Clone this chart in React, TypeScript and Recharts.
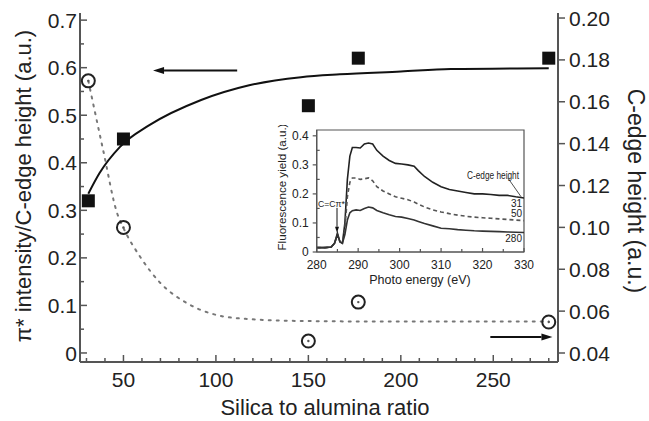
import {
  ComposedChart,
  LineChart,
  Line,
  Scatter,
  XAxis,
  YAxis,
  ReferenceLine,
  ReferenceArea,
  Label,
} from "recharts";

// --- main plot: silica to alumina ratio ---
const SQUARE_X = [31, 50, 150, 177, 280];
const SQUARE_Y = [0.32, 0.45, 0.52, 0.62, 0.62]; // pi*/C-edge (left axis)
const CIRCLE_X = [31, 50, 150, 177, 280];
const CIRCLE_Y = [0.17, 0.1, 0.0457, 0.0643, 0.0548]; // C-edge height (right axis)

// fitted curves
const FIT_X = [31, 37, 48, 64, 92, 118, 146, 167, 200, 227, 280];
const FIT_Y = [0.335, 0.378, 0.433, 0.479, 0.532, 0.563, 0.58, 0.586, 0.592, 0.597, 0.599];
const DOT_X = [31, 39, 46.5, 50, 59, 70, 84, 101, 118, 146, 200, 280];
const DOT_Y = [0.17, 0.137, 0.107, 0.0997, 0.086, 0.0734, 0.064, 0.058, 0.0562, 0.0553, 0.055, 0.055];

const X_TICKS = [30, 40, 50, 60, 70, 80, 90, 100, 110, 120, 130, 140, 150, 160, 170, 180, 190, 200, 210, 220, 230, 240, 250, 260, 270, 280];
const X_LABELS = [50, 100, 150, 200, 250];
const LEFT_TICKS = [0, 0.05, 0.1, 0.15, 0.2, 0.25, 0.3, 0.35, 0.4, 0.45, 0.5, 0.55, 0.6, 0.65, 0.7];
const RIGHT_TICKS = [0.04, 0.06, 0.08, 0.1, 0.12, 0.14, 0.16, 0.18, 0.2];

// arrows pointing at the axis each series belongs to
const ARROW_LEFT = { from: 111.5, to: 66, y: 0.594 };
const ARROW_RIGHT = { from: 248.4, to: 282, y: 0.0476 };

// --- inset: fluorescence yield spectra ---
const ENERGY = [280, 282, 283.5, 284.3, 285, 285.6, 286.2, 286.8, 287.4, 288, 288.6, 289.5, 290.5, 291.5, 292.5, 293.5, 294.5, 296, 297.5, 299, 300.5, 302, 303.5, 304.5, 306, 308, 310, 312, 314, 316, 318, 320, 322, 324, 326, 328, 330];
const YIELD_31 = [0.015, 0.015, 0.017, 0.03, 0.065, 0.035, 0.03, 0.1, 0.25, 0.33, 0.36, 0.36, 0.358, 0.372, 0.375, 0.372, 0.35, 0.33, 0.315, 0.305, 0.303, 0.3, 0.295, 0.28, 0.26, 0.24, 0.225, 0.215, 0.21, 0.205, 0.2, 0.2, 0.198, 0.195, 0.195, 0.19, 0.186];
const YIELD_50 = [0.015, 0.015, 0.017, 0.03, 0.06, 0.035, 0.03, 0.08, 0.19, 0.24, 0.255, 0.255, 0.25, 0.252, 0.255, 0.245, 0.225, 0.21, 0.2, 0.19, 0.185, 0.18, 0.172, 0.165, 0.155, 0.145, 0.138, 0.132, 0.127, 0.123, 0.12, 0.118, 0.116, 0.114, 0.112, 0.11, 0.108];
const YIELD_280 = [0.015, 0.015, 0.017, 0.03, 0.06, 0.035, 0.03, 0.06, 0.11, 0.135, 0.142, 0.145, 0.143, 0.15, 0.155, 0.152, 0.143, 0.135, 0.128, 0.122, 0.12, 0.115, 0.11, 0.105, 0.098, 0.09, 0.082, 0.08, 0.077, 0.075, 0.073, 0.072, 0.071, 0.07, 0.069, 0.068, 0.067];
const INSET_X_TICKS = [280, 285, 290, 295, 300, 305, 310, 315, 320, 325, 330];
const INSET_Y_TICKS = [0, 0.05, 0.1, 0.15, 0.2, 0.25, 0.3, 0.35, 0.4];
const SERIES_LABELS = ["31", "50", "280"];

const AX = "#555";
const INK = "#222";
const FONT = "'Liberation Sans', Arial, Helvetica, sans-serif";

const squares = SQUARE_X.map((x, i) => ({ x, y: SQUARE_Y[i] }));
const circles = CIRCLE_X.map((x, i) => ({ x, y: CIRCLE_Y[i] }));
const fit = FIT_X.map((x, i) => ({ x, y: FIT_Y[i] }));
const dotted = DOT_X.map((x, i) => ({ x, y: DOT_Y[i] }));
const spectra = ENERGY.map((e, i) => ({ e, a: YIELD_31[i], b: YIELD_50[i], c: YIELD_280[i] }));

function BottomTick({ x, y, payload }: any) {
  const major = X_LABELS.includes(payload.value);
  return (
    <g>
      <line x1={x} x2={x} y1={y} y2={y - (major ? 7 : 4)} stroke={AX} strokeWidth={1.5} />
      {major && (
        <text x={x} y={y + 25} textAnchor="middle" fontSize={21} fill={INK} fontFamily={FONT}>
          {payload.value}
        </text>
      )}
    </g>
  );
}

function TopTick({ x, y, payload }: any) {
  const major = X_LABELS.includes(payload.value);
  return <line x1={x} x2={x} y1={y} y2={y + (major ? 7 : 4)} stroke={AX} strokeWidth={1.5} />;
}

function LeftTick({ x, y, payload }: any) {
  const v = payload.value;
  const major = Math.round(v * 100) % 10 === 0;
  return (
    <g>
      <line x1={x} x2={x + (major ? 7 : 4)} y1={y} y2={y} stroke={AX} strokeWidth={1.5} />
      {major && (
        <text x={x - 3} y={y} dy="0.36em" textAnchor="end" fontSize={21} fill={INK} fontFamily={FONT}>
          {v === 0 ? "0" : v.toFixed(1)}
        </text>
      )}
    </g>
  );
}

function RightTick({ x, y, payload }: any) {
  return (
    <g>
      <line x1={x} x2={x + 7} y1={y} y2={y} stroke={AX} strokeWidth={1.5} />
      <text x={x + 11} y={y} dy="0.36em" textAnchor="start" fontSize={21} fill={INK} fontFamily={FONT}>
        {payload.value.toFixed(2)}
      </text>
    </g>
  );
}

function InsetXTick({ x, y, payload }: any) {
  const major = payload.value % 10 === 0;
  return (
    <g>
      <line x1={x} x2={x} y1={y} y2={y - (major ? 4 : 3)} stroke={AX} strokeWidth={1.2} />
      {major && (
        <text x={x} y={y + 17} textAnchor="middle" fontSize={12} fill={INK} fontFamily={FONT}>
          {payload.value}
        </text>
      )}
    </g>
  );
}

function InsetYTick({ x, y, payload }: any) {
  const v = payload.value;
  const major = Math.round(v * 100) % 10 === 0;
  return (
    <g>
      {major ? (
        <line x1={x} x2={x - 4} y1={y} y2={y} stroke={AX} strokeWidth={1.2} />
      ) : (
        <line x1={x} x2={x + 3} y1={y} y2={y} stroke={AX} strokeWidth={1.2} />
      )}
      {major && (
        <text x={x - 8} y={y} dy="0.36em" textAnchor="end" fontSize={12} fill={INK} fontFamily={FONT}>
          {v === 0 ? "0" : v.toFixed(1)}
        </text>
      )}
    </g>
  );
}

function SquareDot({ cx, cy }: any) {
  return <rect x={cx - 6.5} y={cy - 6.5} width={13} height={13} fill="#111" />;
}

function OpenCircle({ cx, cy }: any) {
  return (
    <g>
      <circle cx={cx} cy={cy} r={6.5} fill="none" stroke="#222" strokeWidth={2} />
      <circle cx={cx} cy={cy} r={1.2} fill="#555" />
    </g>
  );
}

function arrow(props: any, head = 11, half = 3.5, width = 2) {
  const { x1, y1, x2, y2 } = props;
  const len = Math.hypot(x2 - x1, y2 - y1) || 1;
  const ux = (x2 - x1) / len;
  const uy = (y2 - y1) / len;
  const bx = x2 - ux * head;
  const by = y2 - uy * head;
  return (
    <g>
      <line x1={x1} y1={y1} x2={bx} y2={by} stroke="#111" strokeWidth={width} />
      <polygon points={`${x2},${y2} ${bx - uy * half},${by + ux * half} ${bx + uy * half},${by - ux * half}`} fill="#111" />
    </g>
  );
}

function Inset() {
  return (
    <LineChart width={280} height={165} data={spectra} margin={{ top: 5, right: 26, bottom: 0, left: 0 }}>
      <XAxis
        dataKey="e"
        type="number"
        domain={[280, 330]}
        ticks={INSET_X_TICKS}
        interval={0}
        height={38}
        tickSize={0}
        tickMargin={0}
        tickLine={false}
        tick={<InsetXTick />}
        axisLine={{ stroke: AX, strokeWidth: 1.2 }}
        allowDataOverflow
      >
        <Label
          content={() => (
            <g fontFamily={FONT} fill={INK}>
              <text x={150} y={159} textAnchor="middle" fontSize={12.5}>
                Photo energy (eV)
              </text>
              <text x={11} y={62} textAnchor="middle" dominantBaseline="central" fontSize={11.6} transform="rotate(-90 11 62)">
                Fluorescence yield (a.u.)
              </text>
              <text x={48} y={82} fontSize={9.5} textLength={27} lengthAdjust="spacingAndGlyphs">
                C=Cπ*
              </text>
              <text x={223} y={54} textAnchor="middle" fontSize={10} textLength={52} lengthAdjust="spacingAndGlyphs">
                C-edge height
              </text>
              <text x={252} y={82} textAnchor="end" fontSize={10}>{SERIES_LABELS[0]}</text>
              <text x={252} y={92} textAnchor="end" fontSize={10}>{SERIES_LABELS[1]}</text>
              <text x={252} y={117} textAnchor="end" fontSize={10}>{SERIES_LABELS[2]}</text>
            </g>
          )}
        />
      </XAxis>
      <YAxis
        type="number"
        domain={[0, 0.42]}
        ticks={INSET_Y_TICKS}
        interval={0}
        width={46.7}
        tickSize={0}
        tickMargin={0}
        tickLine={false}
        tick={<InsetYTick />}
        axisLine={{ stroke: AX, strokeWidth: 1.2 }}
        allowDataOverflow
      />
      <ReferenceArea x1={280} x2={330} y1={0} y2={0.42} fill="none" stroke={AX} strokeWidth={1.2} ifOverflow="visible" />
      <Line dataKey="a" type="linear" stroke="#222" strokeWidth={1.6} dot={false} isAnimationActive={false} />
      <Line dataKey="b" type="linear" stroke="#555" strokeWidth={1.6} strokeDasharray="4 3" dot={false} isAnimationActive={false} />
      <Line dataKey="c" type="linear" stroke="#333" strokeWidth={1.6} dot={false} isAnimationActive={false} />
      <ReferenceLine
        segment={[{ x: 284.9, y: 0.152 }, { x: 284.9, y: 0.066 }]}
        ifOverflow="visible"
        shape={(p: any) => arrow(p, 6, 2, 1)}
      />
      <ReferenceLine
        segment={[{ x: 326.1, y: 0.255 }, { x: 329.3, y: 0.19 }]}
        ifOverflow="visible"
        stroke="#222"
        strokeWidth={0.8}
      />
    </LineChart>
  );
}

export default function App() {
  return (
    <div style={{ position: "absolute", left: 0, top: 0, width: 649, height: 421, background: "#fff" }}>
      <ComposedChart width={649} height={421} margin={{ top: 13, right: 0, bottom: 0, left: 0 }}>
        <XAxis
          dataKey="x"
          type="number"
          domain={[26.5, 285]}
          ticks={X_TICKS}
          interval={0}
          height={59}
          tickSize={0}
          tickMargin={0}
          tickLine={false}
          tick={<BottomTick />}
          axisLine={{ stroke: AX, strokeWidth: 2 }}
          allowDataOverflow
        >
          <Label
            content={() => (
              <g fontFamily={FONT} fill={INK}>
                <text x={325} y={415} textAnchor="middle" fontSize={22}>
                  Silica to alumina ratio
                </text>
                <text x={23} y={186} textAnchor="middle" dominantBaseline="central" fontSize={22} transform="rotate(-90 23 186)">
                  π* intensity/C-edge height (a.u.)
                </text>
                <text x={636} y={191} textAnchor="middle" dominantBaseline="central" fontSize={23} transform="rotate(90 636 191)">
                  C-edge height (a.u.)
                </text>
              </g>
            )}
          />
        </XAxis>
        <XAxis
          xAxisId="top"
          orientation="top"
          dataKey="x"
          type="number"
          domain={[26.5, 285]}
          ticks={X_TICKS}
          interval={0}
          height={0}
          tickSize={0}
          tickMargin={0}
          tickLine={false}
          tick={<TopTick />}
          axisLine={{ stroke: AX, strokeWidth: 2 }}
          allowDataOverflow
        />
        <YAxis
          dataKey="y"
          type="number"
          domain={[-0.019, 0.715]}
          ticks={LEFT_TICKS}
          interval={0}
          width={80}
          tickSize={0}
          tickMargin={0}
          tickLine={false}
          tick={<LeftTick />}
          axisLine={{ stroke: AX, strokeWidth: 2 }}
          allowDataOverflow
        />
        <YAxis
          yAxisId="right"
          orientation="right"
          dataKey="y"
          type="number"
          domain={[0.0357, 0.2024]}
          ticks={RIGHT_TICKS}
          interval={0}
          width={91}
          tickSize={0}
          tickMargin={0}
          tickLine={false}
          tick={<RightTick />}
          axisLine={{ stroke: AX, strokeWidth: 2 }}
          allowDataOverflow
        />
        <Line data={fit} dataKey="y" type="monotone" stroke="#111" strokeWidth={2} dot={false} isAnimationActive={false} />
        <Line
          data={dotted}
          dataKey="y"
          yAxisId="right"
          type="monotone"
          stroke="#777"
          strokeWidth={2}
          strokeDasharray="2 6"
          strokeLinecap="round"
          dot={false}
          isAnimationActive={false}
        />
        <Scatter data={squares} dataKey="y" shape={<SquareDot />} isAnimationActive={false} />
        <Scatter data={circles} dataKey="y" yAxisId="right" shape={<OpenCircle />} isAnimationActive={false} />
        <ReferenceLine
          segment={[{ x: ARROW_LEFT.from, y: ARROW_LEFT.y }, { x: ARROW_LEFT.to, y: ARROW_LEFT.y }]}
          ifOverflow="visible"
          shape={(p: any) => arrow(p)}
        />
        <ReferenceLine
          yAxisId="right"
          segment={[{ x: ARROW_RIGHT.from, y: ARROW_RIGHT.y }, { x: ARROW_RIGHT.to, y: ARROW_RIGHT.y }]}
          ifOverflow="visible"
          shape={(p: any) => arrow(p)}
        />
      </ComposedChart>
      <div style={{ position: "absolute", left: 270, top: 125 }}>
        <Inset />
      </div>
    </div>
  );
}
